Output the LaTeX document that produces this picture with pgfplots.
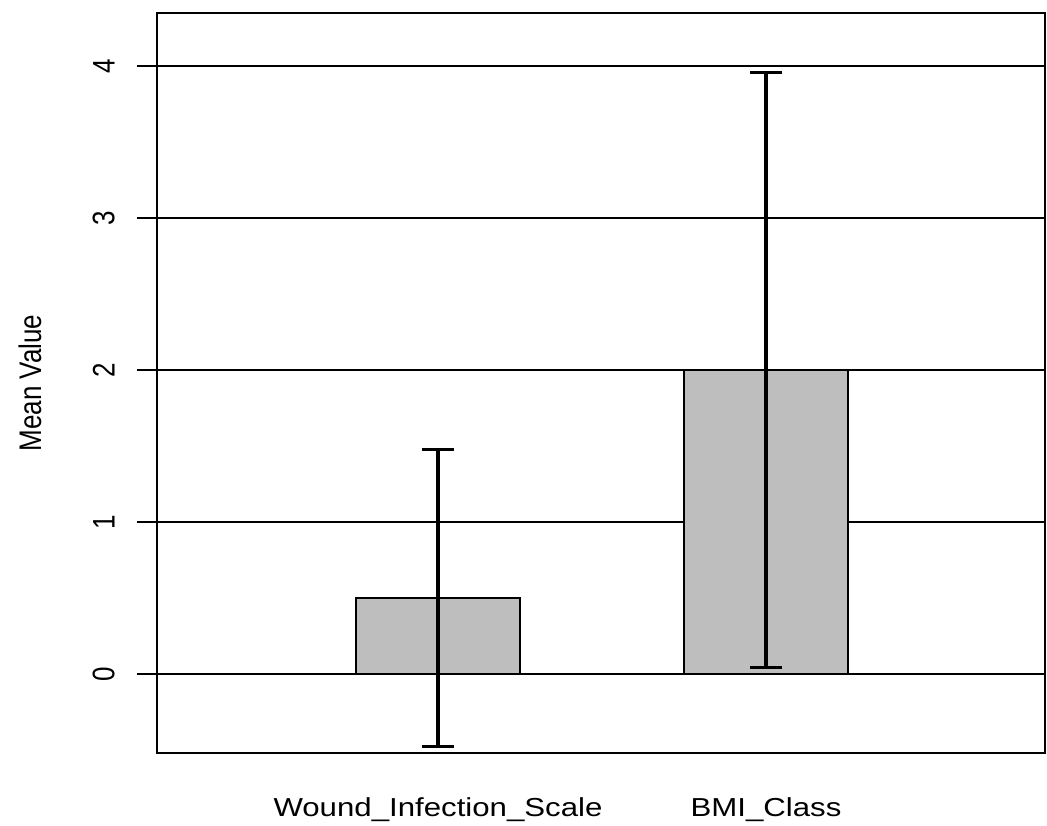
\documentclass[border=0pt]{standalone}
\usepackage{fontspec}
\setmainfont{Liberation Sans}
\newfontfamily\stretchfont{Liberation Sans}[FakeStretch=1.2]
\usepackage{graphicx}
\usepackage{pgfplots}
\pgfplotsset{compat=1.18}
\newcommand\rl[1]{\scalebox{1.2}[1]{\rotatebox{90}{#1}}}
\begin{document}
\begin{tikzpicture}
\useasboundingbox (0,0) rectangle (523.5pt,412.5pt);
\begin{axis}[
  at={(78.5pt,36pt)}, anchor=south west,
  scale only axis, width=444pt, height=370pt,
  xmin=0.1433, xmax=2.8506, ymin=-0.5197, ymax=4.349,
  axis line style={black, line width=1pt},
  xtick={1,2}, xticklabels={Wound\_Infection\_Scale, BMI\_Class},
  xtick style={draw=none},
  xticklabel style={anchor=base, inner sep=0pt, yshift=-21.5pt, font=\fontsize{13}{15}\stretchfont},
  ytick={0,1,2,3,4}, yticklabels={\rl{0},\rl{1},\rl{2},\rl{3},\rl{4}},
  ytick pos=left, tick align=outside, major tick length=10pt,
  ytick style={black, line width=1pt},
  yticklabel style={anchor=east, inner sep=0pt, xshift=-11pt, font=\fontsize{13}{15}\selectfont},
  ymajorgrids, major grid style={black, line width=1pt},
  clip=false,
]
\addplot[ybar, bar width=82pt, bar shift=0pt, fill={rgb,255:red,190;green,190;blue,190}, draw=black, line width=1.2pt,
  error bars/.cd, y dir=both, y explicit,
  error bar style={black, line width=2pt},
  error mark options={rotate=90, mark size=8pt, line width=1.8pt, black}]
  coordinates {(1,0.5) +- (0,0.976) (2,2.0) +- (0,1.957)};
\node at (rel axis cs:0,0.5) [xshift=-63.5pt, inner sep=0pt, font=\fontsize{13}{15}\selectfont] {\rl{Mean Value}};
\end{axis}
\end{tikzpicture}
\end{document}
